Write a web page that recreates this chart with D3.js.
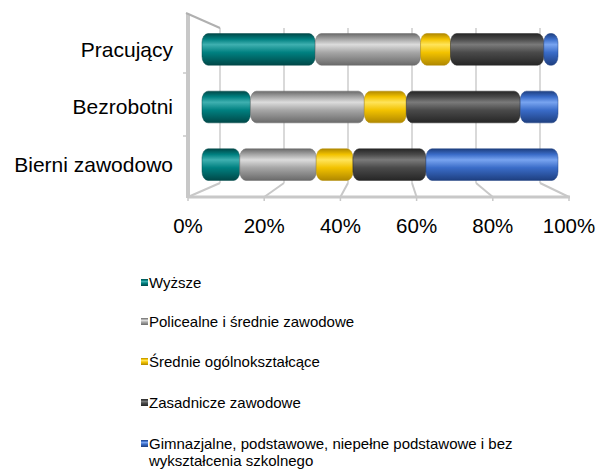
<!DOCTYPE html>
<html>
<head>
<meta charset="utf-8">
<script src="https://cdn.jsdelivr.net/npm/d3@7"></script>
<style>
  body { margin: 0; background: #fff; }
  text { font-family: "Liberation Sans", Arial, sans-serif; fill: #000; }
</style>
</head>
<body>
<svg id="chart" width="600" height="475"></svg>
<script>
// categories (top to bottom) and series shares in %
var categories = ["Pracujący", "Bezrobotni", "Bierni zawodowo"];
var seriesNames = [
  "Wyższe",
  "Policealne i średnie zawodowe",
  "Średnie ogólnokształcące",
  "Zasadnicze zawodowe",
  "Gimnazjalne, podstawowe, niepełne podstawowe i bez wykształcenia szkolnego"
];
var wyzsze      = [31.8, 13.6, 10.6];
var policealne  = [29.6, 32.0, 21.5];
var srednie     = [8.4, 11.8, 10.3];
var zasadnicze  = [26.2, 32.0, 20.5];
var gimnazjalne = [4.0, 10.6, 37.1];
var tickValues = [0, 20, 40, 60, 80, 100];

var colors = [
  { base: "#008080", light: "#3fb0b0", dark: "#004848" },
  { base: "#a6a6a6", light: "#dcdcdc", dark: "#6a6a6a" },
  { base: "#f2c200", light: "#ffe45a", dark: "#b08800" },
  { base: "#4a4a4a", light: "#7a7a7a", dark: "#262626" },
  { base: "#3a6cc8", light: "#78a4f0", dark: "#1e3f80" }
];

var seriesValues = [wyzsze, policealne, srednie, zasadnicze, gimnazjalne];
var data = categories.map(function (c, i) {
  var row = { cat: c };
  seriesNames.forEach(function (s, k) { row[s] = seriesValues[k][i]; });
  return row;
});

var svg = d3.select("#chart");

// scales: bars, back wall grid, front floor edge
var x = d3.scaleLinear().domain([0, 100]).range([202, 558]);
var xBack = d3.scaleLinear().domain([0, 100]).range([220, 540]);
var xFront = d3.scaleLinear().domain([0, 100]).range([188, 569]);
var y = d3.scaleBand().domain(categories).range([22, 192]).paddingInner(0.45).paddingOuter(0.2);

// gradients for cylinder look
var defs = svg.append("defs");
colors.forEach(function (c, i) {
  var g = defs.append("linearGradient").attr("id", "grad" + i)
    .attr("x1", 0).attr("y1", 0).attr("x2", 0).attr("y2", 1);
  g.append("stop").attr("offset", "0%").attr("stop-color", c.dark);
  g.append("stop").attr("offset", "18%").attr("stop-color", c.base);
  g.append("stop").attr("offset", "35%").attr("stop-color", c.light);
  g.append("stop").attr("offset", "60%").attr("stop-color", c.base);
  g.append("stop").attr("offset", "100%").attr("stop-color", c.dark);
});

var frame = "#c8c8c8";

// back wall gridlines
svg.append("g").selectAll("line").data(tickValues).enter().append("line")
  .attr("x1", function (d) { return xBack(d); })
  .attr("x2", function (d) { return xBack(d); })
  .attr("y1", 28).attr("y2", 183)
  .attr("stroke", "#d9d9d9").attr("stroke-width", 2);

// floor diagonals
svg.append("g").selectAll("line").data(tickValues).enter().append("line")
  .attr("x1", function (d) { return xBack(d); })
  .attr("y1", 183)
  .attr("x2", function (d) { return xFront(d); })
  .attr("y2", 197)
  .attr("stroke", frame).attr("stroke-width", 2);

// front floor edge
svg.append("line").attr("x1", 188).attr("x2", 570).attr("y1", 197).attr("y2", 197)
  .attr("stroke", frame).attr("stroke-width", 3);
svg.append("g").selectAll("line").data(tickValues).enter().append("line")
  .attr("x1", function (d) { return xFront(d); })
  .attr("x2", function (d) { return xFront(d); })
  .attr("y1", 197).attr("y2", 201)
  .attr("stroke", frame).attr("stroke-width", 1.5);

// left wall
svg.append("line").attr("x1", 188).attr("x2", 188).attr("y1", 14).attr("y2", 198)
  .attr("stroke", frame).attr("stroke-width", 4);
svg.append("line").attr("x1", 186).attr("y1", 13).attr("x2", 220).attr("y2", 28)
  .attr("stroke", "#b0b0b0").attr("stroke-width", 2);
svg.append("g").selectAll("line").data([73, 136]).enter().append("line")
  .attr("x1", 183).attr("x2", 188)
  .attr("y1", function (d) { return d; }).attr("y2", function (d) { return d; })
  .attr("stroke", frame).attr("stroke-width", 1.5);

// stacked cylinders
var stack = d3.stack().keys(seriesNames)(data);
var bars = svg.append("g");
stack.forEach(function (layer, k) {
  bars.selectAll(null).data(layer).enter().append("rect")
    .attr("x", function (d) { return x(d[0]); })
    .attr("y", function (d) { return y(d.data.cat); })
    .attr("width", function (d) { return x(d[1]) - x(d[0]); })
    .attr("height", y.bandwidth())
    .attr("rx", 6).attr("ry", 9)
    .attr("fill", "url(#grad" + k + ")")
    .attr("stroke", colors[k].dark).attr("stroke-width", 0.8).attr("stroke-opacity", 0.6);
});

// category labels
svg.append("g").selectAll("text").data(categories).enter().append("text")
  .attr("x", 173)
  .attr("y", function (d) { return y(d) + y.bandwidth() / 2; })
  .attr("dy", "0.35em")
  .attr("text-anchor", "end")
  .style("font-size", "21px")
  .text(function (d) { return d; });

// x tick labels
svg.append("g").selectAll("text").data(tickValues).enter().append("text")
  .attr("x", function (d) { return xFront(d); })
  .attr("y", 226)
  .attr("dy", "0.35em")
  .attr("text-anchor", "middle")
  .style("font-size", "20.5px")
  .text(function (d) { return d + "%"; });

// legend
var legendY = [283, 322, 362, 403, 444];
var legend = svg.append("g");
seriesNames.forEach(function (s, k) {
  legend.append("rect")
    .attr("x", 141).attr("y", legendY[k] - 4)
    .attr("width", 7).attr("height", 7)
    .attr("fill", "url(#grad" + k + ")");
  var lines = k === 4
    ? ["Gimnazjalne, podstawowe, niepełne podstawowe i bez", "wykształcenia szkolnego"]
    : [s];
  lines.forEach(function (t, j) {
    legend.append("text")
      .attr("x", 149).attr("y", legendY[k] + j * 17)
      .attr("dy", "0.35em")
      .style("font-size", "15px")
      .text(t);
  });
});
</script>
</body>
</html>
